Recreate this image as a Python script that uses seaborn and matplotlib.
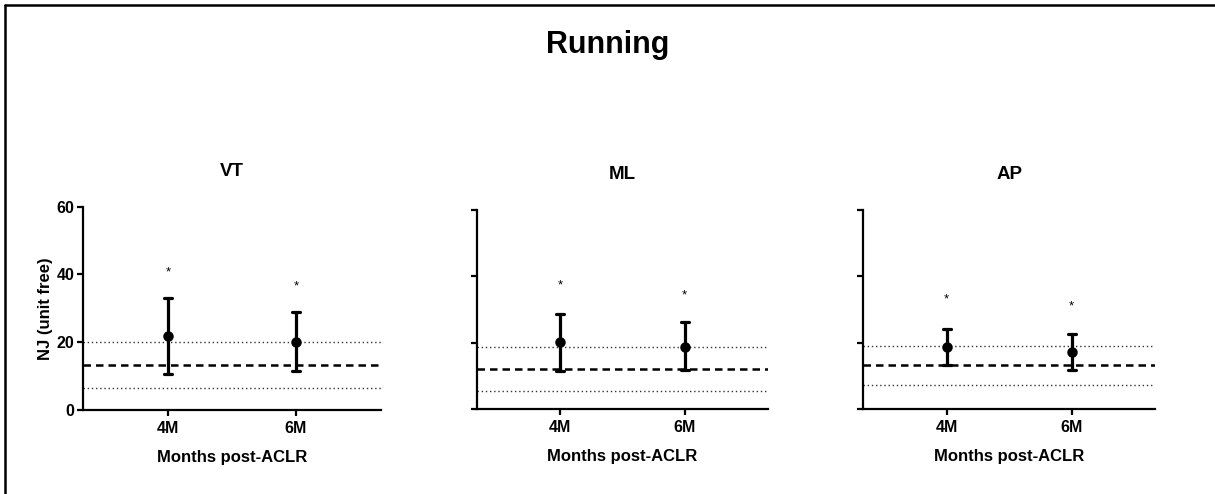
import matplotlib
matplotlib.use("Agg")
import matplotlib.pyplot as plt
from matplotlib.lines import Line2D
import numpy as np
import pandas as pd
import seaborn as sns

# ---- data -------------------------------------------------------------
directions = ["VT", "ML", "AP"]
timepoints = ["4M", "6M"]

# mean and error-bar limits of NJ per direction and time point
nj_mean = {"VT": [21.9, 20.1], "ML": [20.2, 18.9], "AP": [18.9, 17.2]}
nj_lower = {"VT": [10.7, 11.4], "ML": [11.6, 11.8], "AP": [13.4, 11.7]}
nj_upper = {"VT": [33.1, 29.0], "ML": [28.7, 26.2], "AP": [24.3, 22.7]}

# healthy-control reference: mean (dashed) and limits (dotted)
ref_mean = {"VT": 13.2, "ML": 12.1, "AP": 13.3}
ref_low = {"VT": 6.5, "ML": 5.4, "AP": 7.3}
ref_high = {"VT": 20.0, "ML": 18.9, "AP": 19.2}

# height of the significance asterisks
star_y = {"VT": [40.5, 36.4], "ML": [37.4, 34.4], "AP": [33.0, 31.0]}

y_ticks = [0, 20, 40, 60]

# ---- style ------------------------------------------------------------
sns.set_style("ticks")
plt.rcParams["font.family"] = ["Liberation Sans", "DejaVu Sans"]
plt.rcParams["font.weight"] = "bold"
plt.rcParams["axes.labelweight"] = "bold"
plt.rcParams["axes.titleweight"] = "bold"
for key in ("text.color", "axes.labelcolor", "xtick.color", "ytick.color",
            "axes.edgecolor"):
    plt.rcParams[key] = "black"

fig = plt.figure(figsize=(12.15, 4.94), dpi=100)

positions = [
    [0.0683, 0.170, 0.2453, 0.4116],
    [0.3923, 0.1715, 0.2398, 0.4034],
    [0.7105, 0.1715, 0.2401, 0.4034],
]

for i, (d, pos) in enumerate(zip(directions, positions)):
    ax = fig.add_axes(pos)

    # long-form table: lower / mean / upper for each time point,
    # so the median is the mean and the full range gives the error bar
    rows = []
    for j, tp in enumerate(timepoints):
        for v in (nj_lower[d][j], nj_mean[d][j], nj_upper[d][j]):
            rows.append({"time": tp, "nj": v})
    df = pd.DataFrame(rows)

    # reference band
    ax.axhline(ref_high[d], color="#333333", lw=1.0, ls=(0, (1, 2)), zorder=1)
    ax.axhline(ref_low[d], color="#333333", lw=1.0, ls=(0, (1, 2)), zorder=1)
    ax.axhline(ref_mean[d], color="black", lw=1.8, ls=(0, (3, 2)), zorder=1)

    sns.pointplot(
        data=df, x="time", y="nj", order=timepoints,
        estimator="median", errorbar=("pi", 100),
        color="black", linestyle="none", markers="o",
        markersize=5.5, capsize=0.065,
        err_kws={"linewidth": 2.3}, ax=ax, zorder=3,
    )

    for j in range(len(timepoints)):
        ax.text(j, star_y[d][j], "*", ha="center", va="center",
                fontsize=9.5, fontweight="normal", color="black")

    ax.set_xlim(-0.667, 1.667)
    ax.set_ylim(0, 60)
    ax.set_yticks(y_ticks)
    sns.despine(ax=ax)
    for s in ("left", "bottom"):
        ax.spines[s].set_linewidth(1.6)
        ax.spines[s].set_color("black")
    ax.tick_params(axis="both", width=1.6, length=4, color="black",
                   labelcolor="black", labelsize=11.5, pad=2)
    ax.tick_params(axis="x", pad=4)

    ax.set_xlabel("Months post-ACLR", fontsize=12, labelpad=10)
    if i == 0:
        ax.set_ylabel("NJ (unit free)", fontsize=12, labelpad=3)
        ax.set_yticklabels([str(t) for t in y_ticks])
    else:
        ax.set_ylabel("")
        ax.set_yticklabels([])
    ax.set_title(d, fontsize=13.5, pad=22)

fig.suptitle("Running", fontsize=22, fontweight="bold", x=0.5, y=0.94)

# frame along the top and left edges
fig.add_artist(Line2D([0.0045, 0.0045], [0.0, 0.99], transform=fig.transFigure,
                      color="black", lw=1.8))
fig.add_artist(Line2D([0.0045, 1.0], [0.99, 0.99], transform=fig.transFigure,
                      color="black", lw=1.8))

fig.savefig("out.png", dpi=100, facecolor="white")
